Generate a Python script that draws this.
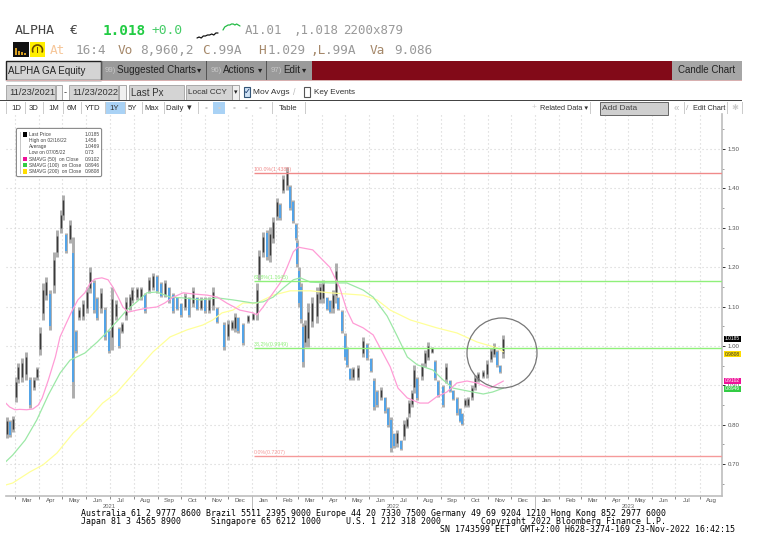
import numpy as np, pandas as pd, matplotlib
matplotlib.use("Agg")
import matplotlib.pyplot as plt, matplotlib.dates as mdates, seaborn as sns
from matplotlib.patches import Circle, Rectangle, FancyBboxPatch, Arc
from matplotlib.ticker import MultipleLocator, FormatStrFormatter

BASE = pd.Timestamp("2021-01-01")
candle_day = [49,52,56,60,63,68,73,78,83,87,
91,95,99,104,109,113,118,121,125,130,
134,138,142,147,152,156,161,165,170,175,
180,184,189,193,197,202,207,210,216,222,
227,232,237,242,247,252,258,263,268,273,
278,283,289,294,299,304,309,314,320,329,
334,339,343,347,353,360,366,371,374,379,
384,388,392,397,401,405,410,414,418,421,
423,425,428,430,433,437,442,449,452,456,
461,465,469,473,476,481,485,487,491,495,
501,508,513,518,522,526,531,536,540,544,
548,552,557,561,565,567,571,574,578,584,
588,592,597,601,605,611,615,620,624,629,
633,636,639,643,648,652,656,663,668,673,
677,681,685,689]
candle_high = [.820,.812,.822,.921,.957,.970,.985,.921,.921,.947,
1.048,1.160,1.175,1.142,1.239,1.294,1.345,1.383,1.287,1.320,
1.277,1.041,1.099,1.117,1.150,1.200,1.168,1.124,1.147,1.099,
1.041,1.150,1.117,1.048,1.061,1.124,1.132,1.150,1.150,1.150,
1.135,1.175,1.185,1.180,1.162,1.168,1.150,1.135,1.124,1.109,
1.135,1.124,1.150,1.124,1.124,1.124,1.124,1.150,1.099,1.061,
1.066,1.066,1.084,1.074,1.058,1.079,1.084,1.160,1.244,1.289,
1.294,1.302,1.327,1.376,1.363,1.434,1.454,1.409,1.371,1.312,
1.269,1.200,1.160,1.058,1.066,1.109,1.124,1.150,1.160,1.168,
1.124,1.117,1.142,1.211,1.124,1.091,1.033,.997,.944,.947,
.952,1.023,1.008,.970,.919,.888,.896,.871,.845,.820,
.779,.787,.761,.812,.820,.863,.888,.952,.921,.957,
.990,1.010,.997,.964,.914,.901,.957,.914,.888,.871,
.843,.830,.868,.871,.901,.926,.934,.939,.964,.995,
1.008,.990,.952,1.028]
candle_low = [.767,.769,.782,.858,.906,.909,.914,.843,.888,.914,
.977,1.066,1.117,1.041,1.135,1.226,1.287,1.320,1.236,1.261,
.868,.982,1.066,1.066,1.084,1.135,1.084,1.066,1.084,1.015,
.982,.990,1.066,.995,1.033,1.066,1.091,1.109,1.117,1.117,
1.084,1.135,1.142,1.135,1.124,1.124,1.109,1.084,1.091,1.074,
1.091,1.074,1.099,1.091,1.091,1.084,1.084,1.091,1.058,.990,
1.015,1.041,1.036,1.033,1.003,1.058,1.066,1.066,1.168,1.226,
1.218,1.213,1.261,1.320,1.320,1.388,1.396,1.345,1.312,1.269,
1.200,1.099,1.058,.947,.997,.997,1.048,1.058,1.109,1.109,
1.091,1.084,1.084,1.109,1.091,1.033,.964,.947,.914,.914,
.914,.972,.964,.934,.838,.845,.863,.830,.794,.731,
.741,.744,.736,.761,.792,.820,.845,.881,.863,.914,
.947,.964,.982,.914,.871,.845,.906,.883,.863,.825,
.807,.799,.845,.845,.863,.888,.909,.919,.919,.959,
.972,.947,.931,.970]

sma50_day = [47,52,59,65,74,82,89,94,102,111,117,127,133,140,149,156,162,171,179,185,192,198,205,216,229,242,252,263,276,289,307,320,332,349,366,371,379,392,401,410,418,424,443,452,465,478,487,495,508,521,530,543,553,565,581,592,603,616,629,642,655,672,689]
sma50_val = [.855,.845,.838,.839,.838,.840,.850,.868,.914,.972,1.023,1.066,1.091,1.117,1.135,1.160,1.170,1.173,1.168,1.150,1.124,1.099,1.086,1.091,1.096,1.099,1.109,1.124,1.135,1.132,1.129,1.124,1.109,1.091,1.084,1.079,1.099,1.135,1.160,1.200,1.239,1.251,1.244,1.226,1.200,1.147,1.091,1.058,1.046,1.028,.995,.947,.893,.868,.855,.855,.871,.883,.906,.911,.906,.893,.911]
sma100_day = [47,56,72,87,102,117,130,149,165,178,192,203,216,229,242,259,276,298,320,340,366,379,392,405,418,427,440,465,487,508,521,539,552,565,578,598,611,624,642,663,675,689]
sma100_val = [.706,.723,.761,.812,.876,.931,.964,.982,1.010,1.036,1.066,1.091,1.112,1.135,1.137,1.124,1.122,1.117,1.122,1.117,1.109,1.112,1.124,1.147,1.168,1.173,1.162,1.160,1.160,1.142,1.124,1.076,1.025,.972,.952,.939,.914,.893,.886,.878,.883,.893]
sma200_day = [47,56,78,95,113,134,156,172,190,207,237,259,281,301,314,326,340,353,371,392,414,440,465,508,526,543,569,603,629,655,681,689]
sma200_val = [.647,.652,.680,.698,.728,.779,.820,.855,.881,.919,.985,1.023,1.041,1.053,1.066,1.084,1.091,1.109,1.109,1.129,1.140,1.140,1.135,1.129,1.117,1.091,1.066,1.046,1.033,1.010,.995,.985]

fib_levels = [1.4385, 1.1645, 0.9949, 0.7207]
fib_labels = ["100.0%(1.4385)", "61.8%(1.1645)", "38.2%(0.9949)", "0.0%(0.7207)"]
fib_colors = ["#f08a8a", "#8ff07a", "#8ff07a", "#f59a9a"]
last_tags = [("1.0185", 1.0185, "#000000", "white"), ("0.9808", 0.9808, "#ffdd00", "#333333"),
             ("0.9102", 0.9102, "#ee1199", "white"), ("0.8946", 0.8946, "#33cc44", "white")]
legend_rows = [("Last Price", "1.0185"), ("High on 02/16/22", "1.456"), ("Average", "1.0469"),
               ("Low on 07/05/22", "0.73"), ("SMAVG (50)  on Close", "0.9102"),
               ("SMAVG (100)  on Close", "0.8946"), ("SMAVG (200)  on Close", "0.9808")]
spark_black = [38, 37, 38, 36, 36, 35, 35, 34, 35, 33, 33]
spark_green = [30, 27, 26, 25, 25, 24, 24, 25, 24, 25, 26]

sns.set_theme(style="white")
mono = "DejaVu Sans Mono"
narrow = ["Liberation Sans", "DejaVu Sans"]
plt.rcParams["font.family"] = ["Liberation Sans", "DejaVu Sans"]
W, H = 772, 537
fig = plt.figure(figsize=(W/100, H/100), dpi=100, facecolor="white")
L, R, T, B = 6, 722, 114, 496
ax = fig.add_axes([L/W, 1-B/H, (R-L)/W, (B-T)/H])
dates = lambda d: BASE + pd.to_timedelta(np.asarray(d), unit="D")

hi, lo = np.array(candle_high), np.array(candle_low)
mid = (hi+lo)/2
falling = np.r_[False, mid[1:] < mid[:-1]]
rng = hi-lo
ax.vlines(dates(candle_day), lo, hi, color="#adadad", lw=2.1, zorder=2)
ax.vlines(dates(candle_day)[~falling], (lo+.2*rng)[~falling], (hi-.2*rng)[~falling], color="#3a3a3a", lw=1.0, zorder=3)
ax.vlines(dates(candle_day)[falling], (lo+.1*rng)[falling], (hi-.1*rng)[falling], color="#4aa3ee", lw=1.3, zorder=3)

for dd, vv, cc in [(sma200_day, sma200_val, "#ffff99"), (sma100_day, sma100_val, "#9ce8a6"), (sma50_day, sma50_val, "#ff9cd6")]:
    sns.lineplot(x=dates(dd), y=vv, color=cc, lw=.9, ax=ax, zorder=4, legend=False, errorbar=None)

start = dates([367])[0]; end = dates([971])[0]
for lv, lb, cc in zip(fib_levels, fib_labels, fib_colors):
    ax.hlines(lv, start, end, color=cc, lw=1.0, zorder=5)
    ax.text(start, lv+.003, lb, fontsize=3.8, color=cc, va="bottom", ha="left", zorder=5)

ax.set_xlim(dates([47.3])[0], end)
ax.set_ylim(.619, 1.589)
ax.set_xlabel(""); ax.set_ylabel("")
ax.xaxis.set_major_locator(mdates.MonthLocator())
ax.xaxis.set_major_formatter(plt.NullFormatter())
ax.xaxis.set_minor_locator(mdates.MonthLocator(bymonthday=16))
ax.xaxis.set_minor_formatter(mdates.DateFormatter("%b"))
ax.yaxis.tick_right()
ax.yaxis.set_major_locator(MultipleLocator(.1))
ax.yaxis.set_minor_locator(MultipleLocator(.05))
ax.yaxis.set_major_formatter(FormatStrFormatter("%.2f"))
ax.tick_params(axis="x", which="major", length=2, width=.6, color="#777777", bottom=True)
ax.tick_params(axis="x", which="minor", length=0, labelsize=4.4, labelcolor="#555555", pad=1.5, bottom=True)
ax.tick_params(axis="y", which="major", length=2.5, width=.7, color="#333333", labelsize=4.4, labelcolor="#555555", pad=1.5, right=True)
ax.tick_params(axis="y", which="minor", length=1.5, width=.5, color="#777777", right=True)
ax.grid(True, which="major", color="#d2d2d2", lw=.8, ls=(0, (1, 2.6)))
for s in ["left", "top"]:
    ax.spines[s].set_visible(False)
for s in ["right", "bottom"]:
    ax.spines[s].set_color("#bdbdbd"); ax.spines[s].set_linewidth(1.2)
xt = ax.get_xaxis_transform()
for y, lab, sep in [("2021-07-01", "2021", None), ("2022-07-02", "2022", "2022-01-01"), ("2023-05-01", "2023", "2023-01-01")]:
    ax.text(pd.Timestamp(y), -.027, lab, transform=xt, fontsize=4.2, color="#666666", ha="center", va="center")
    if sep:
        ax.plot([pd.Timestamp(sep)]*2, [0, -.04], transform=xt, clip_on=False, color="#bbbbbb", lw=.7)

# ---- interface chrome, drawn over the whole figure in pixel units
ui = fig.add_axes([0, 0, 1, 1], facecolor="none")
ui.set_xlim(0, W); ui.set_ylim(H, 0); ui.axis("off")
def box(x0, y0, x1, y1, fc, ec="none", lw=.8, z=1):
    ui.add_patch(Rectangle((x0, y0), x1-x0, y1-y0, fc=fc, ec=ec, lw=lw, zorder=z))
def txt(x, y, s, size=7, color="#333333", ha="left", fam=None, **k):
    ui.text(x, y, s, fontsize=size, color=color, ha=ha, va="center", family=fam or narrow, zorder=3, **k)

ui.add_patch(Circle((502, 353), 35, fc="none", ec="#777777", lw=.9, zorder=6))

# header rows
txt(15, 31, "ALPHA", 9.6, "#444444", fam=mono)
txt(70, 31, "€", 9.6, "#444444", fam=mono)
txt(103, 31, "1.018", 10.4, "#22cc44", fam=mono, fontweight="bold")
txt(152, 31, "+0.0", 9.3, "#44cc66", fam=mono)
for vals, x0, x1, c in [(spark_black, 197, 218, "#111111"), (spark_green, 223, 240, "#22bb44")]:
    sns.lineplot(x=np.linspace(x0, x1, len(vals)), y=vals, ax=ui, color=c, lw=.9, legend=False, errorbar=None)
ui.set_xlabel(""); ui.set_ylabel(""); ui.set_xlim(0, W); ui.set_ylim(H, 0)
for x, s in [(245, "A1.01"), (293, ",1.018"), (343, "2200x879")]:
    txt(x, 31, s, 9.0, "#999999", fam=mono)
box(13, 42, 29, 57, "#111111"); box(30, 42, 45, 57, "#ffee00")
for bx, bh in [(15, 7), (18, 4), (21, 3), (24, 2)]:
    box(bx, 55-bh, bx+2, 55, "#d9a020", z=2)
ui.add_patch(Arc((37.5, 50), 10, 10, theta1=150, theta2=390, ec="#6b4a00", lw=1.2, zorder=3))
box(37, 47, 38, 53, "#6b4a00", z=3)
for x, s, c in [(50, "At", "#f6c79a"), (76, "16:4", "#999999"), (118, "Vo", "#a5886a"), (140, "8,960,2", "#999999"),
                (202, "C", "#a5886a"), (211, ".99A", "#999999"), (258, "H", "#a5886a"), (268, "1.029", "#999999"),
                (310, ",L", "#a5886a"), (325, ".99A", "#999999"), (370, "Va", "#a5886a"), (394, "9.086", "#999999")]:
    txt(x, 50, s, 9.2, c, fam=mono)
box(6, 61, 742, 80, "#9a9a9a")
box(312, 61, 672, 80, "#820a18")
box(6, 61, 101, 80, "#d4d4d4", "#222222", 1)
box(672, 61, 742, 80, "#a6a6a6")
box(6, 80, 742, 81, "#d8b0b0")
txt(8, 71, "ALPHA GA Equity", 7.0, "#222222")
txt(105, 70, "99)", 5.6, "#c8c8c8"); txt(117, 70, "Suggested Charts", 7.1, "#222222"); txt(197, 71, "▾", 6, "#222222")
txt(211, 70, "96)", 5.6, "#c8c8c8"); txt(223, 70, "Actions", 7.1, "#222222"); txt(258, 71, "▾", 6, "#222222")
txt(271, 70, "97)", 5.6, "#c8c8c8"); txt(283, 70, "Edit", 7.1, "#222222"); txt(302, 71, "▾", 6, "#222222")
for x in [101, 206, 266]:
    box(x, 61, x+1, 80, "#555555")
txt(707, 70, "Candle Chart", 7.0, "#222222", ha="center")

for x0, x1 in [(6, 55), (69, 118), (129, 184), (186, 232)]:
    box(x0, 85, x1, 99.5, "#d4d4d4", "#aaaaaa", .7)
for x0, x1 in [(56, 62), (119, 126), (232, 239)]:
    box(x0, 85, x1, 99.5, "#f0f0f0", "#999999", .6)
txt(9, 92.5, "11/23/2021", 6.7); txt(64, 92.5, "-", 6.7); txt(72, 92.5, "11/23/2022", 6.7)
txt(131, 92.5, "Last Px", 7.0); txt(188, 92.5, "Local CCY", 5.9)
txt(235.5, 92.5, "▾", 5, "#222222", ha="center")
box(244, 87, 250, 97, "#cfe2f5", "#335577", .8); txt(247, 92, "✓", 6, "#113366", ha="center")
txt(253, 92.5, "Mov Avgs", 6.0); txt(293, 92.5, "/", 6.5, "#bbbbbb")
box(304, 87, 310, 97, "white", "#555555", .8); txt(314, 92.5, "Key Events", 5.9)
box(0, 100, 742, 100.8, "#444444")
box(105, 102, 125, 114, "#a9d2f5")
box(0, 114, 316, 114.4, "#dddddd")
for x, s in [(16, "1D"), (34, "3D"), (54, "1M"), (72, "6M"), (93, "YTD"), (114, "1Y"), (132, "5Y"), (152, "Max"), (180, "Daily ▼"), (288, "Table")]:
    txt(x, 108, s, 5.6, ha="center")
for x in [6, 25, 43, 63, 81, 105, 125, 142, 164, 198, 272, 305]:
    box(x, 102, x+.6, 114, "#cccccc")
box(213, 102, 225, 114, "#a9d2f5")
for x in [206, 219, 234, 246, 260]:
    txt(x, 108, "▪", 6, "#cfcfcf", ha="center")
txt(532, 108, "+", 6, "#cccccc"); txt(540, 108, "Related Data ▾", 5.3)
box(600, 101.5, 668, 114.5, "#cfcfcf", "#666666", .7); txt(602, 108, "Add Data", 6.0, "#444444")
txt(674, 108, "«", 7, "#bbbbbb"); txt(686, 108, "/", 6, "#aaaaaa"); txt(693, 108, "Edit Chart", 5.3)
txt(735, 108, "✱", 6, "#cccccc", ha="center")
for x in [590, 684, 727, 742]:
    box(x, 102, x+.6, 114, "#cccccc")

# chart legend
ui.add_patch(FancyBboxPatch((17, 129), 84, 47, boxstyle="round,pad=0.6,rounding_size=1.5", fc="white", ec="#888888", lw=.8, zorder=6))
swatch = ["#000000", None, None, None, "#ee1199", "#33cc44", "#ffdd00"]
for i, ((name, val), sw) in enumerate(zip(legend_rows, swatch)):
    y = 134.5 + i*6.15
    ui.text(29, y, name, fontsize=3.55, color="#444444", va="center", zorder=7)
    ui.text(85, y, val, fontsize=3.55, color="#444444", va="center", zorder=7)
    if sw:
        box(22.5, y-2.2, 27, y+2.2, sw, z=7)
    else:
        box(23.5, y-2, 24.2, y+2, "#999999", z=7)
    box(20, y-3, 20.8, y+3, "#c8c8c8", z=7)

# last value tags on the right axis
tag_pos = [339, 354, 381, 388.5]
for (lab, v, fc, tc), y in zip(last_tags, tag_pos):
    box(724, y-3, 741, y+3, fc, z=7)
    ui.text(732.5, y, lab, fontsize=3.5, color=tc, ha="center", va="center", zorder=8)

# footer
for x, y, s in [(81, 513, "Australia 61 2 9777 8600 Brazil 5511 2395 9000 Europe 44 20 7330 7500 Germany 49 69 9204 1210 Hong Kong 852 2977 6000"),
                (81, 521, "Japan 81 3 4565 8900      Singapore 65 6212 1000     U.S. 1 212 318 2000        Copyright 2022 Bloomberg Finance L.P."),
                (440, 529, "SN 1743599 EET  GMT+2:00 H628-3274-169 23-Nov-2022 16:42:15")]:
    ui.text(x, y, s, fontsize=5.95, color="black", family=mono, va="center", zorder=8)

fig.savefig("out.png", dpi=100, facecolor="white")
